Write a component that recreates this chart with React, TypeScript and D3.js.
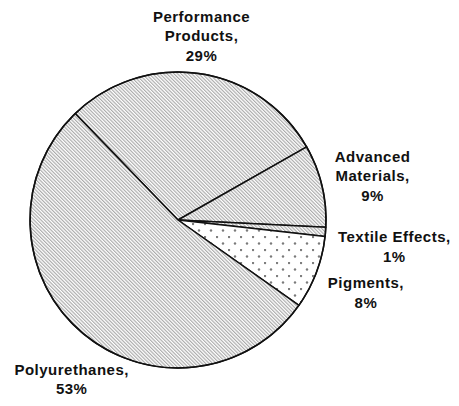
import { useMemo } from 'react';
import * as d3 from 'd3';

// Segment shares (%), clockwise starting from Performance Products
const categories = ['Performance Products', 'Advanced Materials', 'Textile Effects', 'Pigments', 'Polyurethanes'];
const shares = [29, 9, 1, 8, 53];
const fillKinds = ['hatch', 'hatch', 'hatch', 'dots', 'hatch'];
const labelLines = [
  ['Performance', 'Products,', '29%'],
  ['Advanced', 'Materials,', '9%'],
  ['Textile Effects,', '1%'],
  ['Pigments,', '8%'],
  ['Polyurethanes,', '53%'],
];

const WIDTH = 459;
const HEIGHT = 406;
const CX = 178;
const CY = 220;
const RADIUS = 148;
const START = (-44 * Math.PI) / 180;
const LINE_H = 19.5;

// label placement: distance from center along slice mid-angle, plus a nudge
const labelRadius = [186, 200, 218, 201, 191];
const labelNudge: [number, number][] = [[-3, 0], [0, 2], [-1, 9], [0, 1], [18, 14]];

interface Slice {
  label: string;
  value: number;
  kind: string;
  lines: string[];
}

export default function App() {
  const slices: Slice[] = categories.map((c, i) => ({
    label: c,
    value: shares[i],
    kind: fillKinds[i],
    lines: labelLines[i],
  }));

  const arcs = useMemo(
    () =>
      d3
        .pie<Slice>()
        .value((d) => d.value)
        .sort(null)
        .startAngle(START)
        .endAngle(START + 2 * Math.PI)(slices),
    [],
  );

  const arc = d3.arc<d3.PieArcDatum<Slice>>().innerRadius(0).outerRadius(RADIUS);

  return (
    <div style={{ position: 'absolute', left: 0, top: 0 }}>
      <svg width={WIDTH} height={HEIGHT} style={{ display: 'block', background: '#fff' }}>
        <defs>
          <pattern
            id="hatch"
            patternUnits="userSpaceOnUse"
            width={2.5}
            height={6}
            patternTransform="rotate(-45)"
          >
            <rect width={2.5} height={6} fill="#fff" />
            <line x1={0.6} y1={0} x2={0.6} y2={6} stroke="#a6a6a6" strokeWidth={1.1} />
          </pattern>
          <pattern id="dots" patternUnits="userSpaceOnUse" width={12} height={13} x={2} y={3}>
            <rect width={12} height={13} fill="#fff" />
            <circle cx={1} cy={1} r={1.2} fill="#7a7a7a" />
            <circle cx={7} cy={7.5} r={1.2} fill="#7a7a7a" />
          </pattern>
        </defs>
        <g transform={`translate(${CX},${CY})`}>
          {arcs.map((a, i) => (
            <path
              key={i}
              d={arc(a) ?? ''}
              fill={`url(#${a.data.kind})`}
              stroke="#111"
              strokeWidth={1.5}
              strokeLinejoin="round"
            />
          ))}
          <circle r={RADIUS} fill="none" stroke="#111" strokeWidth={1.5} />
          {arcs.map((a, i) => {
            const mid = (a.startAngle + a.endAngle) / 2;
            const r = labelRadius[i];
            const x = r * Math.sin(mid) + labelNudge[i][0];
            const y = -r * Math.cos(mid) + labelNudge[i][1];
            const n = a.data.lines.length;
            const first = y - ((n - 1) * LINE_H) / 2 + 5.5;
            return (
              <text
                key={`t${i}`}
                textAnchor="middle"
                fontFamily="'Liberation Sans', Arial, sans-serif"
                fontWeight="bold"
                fontSize={15}
                letterSpacing={0.5}
                fill="#111"
              >
                {a.data.lines.map((ln, j) => (
                  <tspan key={j} x={x} y={first + j * LINE_H}>
                    {ln}
                  </tspan>
                ))}
              </text>
            );
          })}
        </g>
      </svg>
    </div>
  );
}
